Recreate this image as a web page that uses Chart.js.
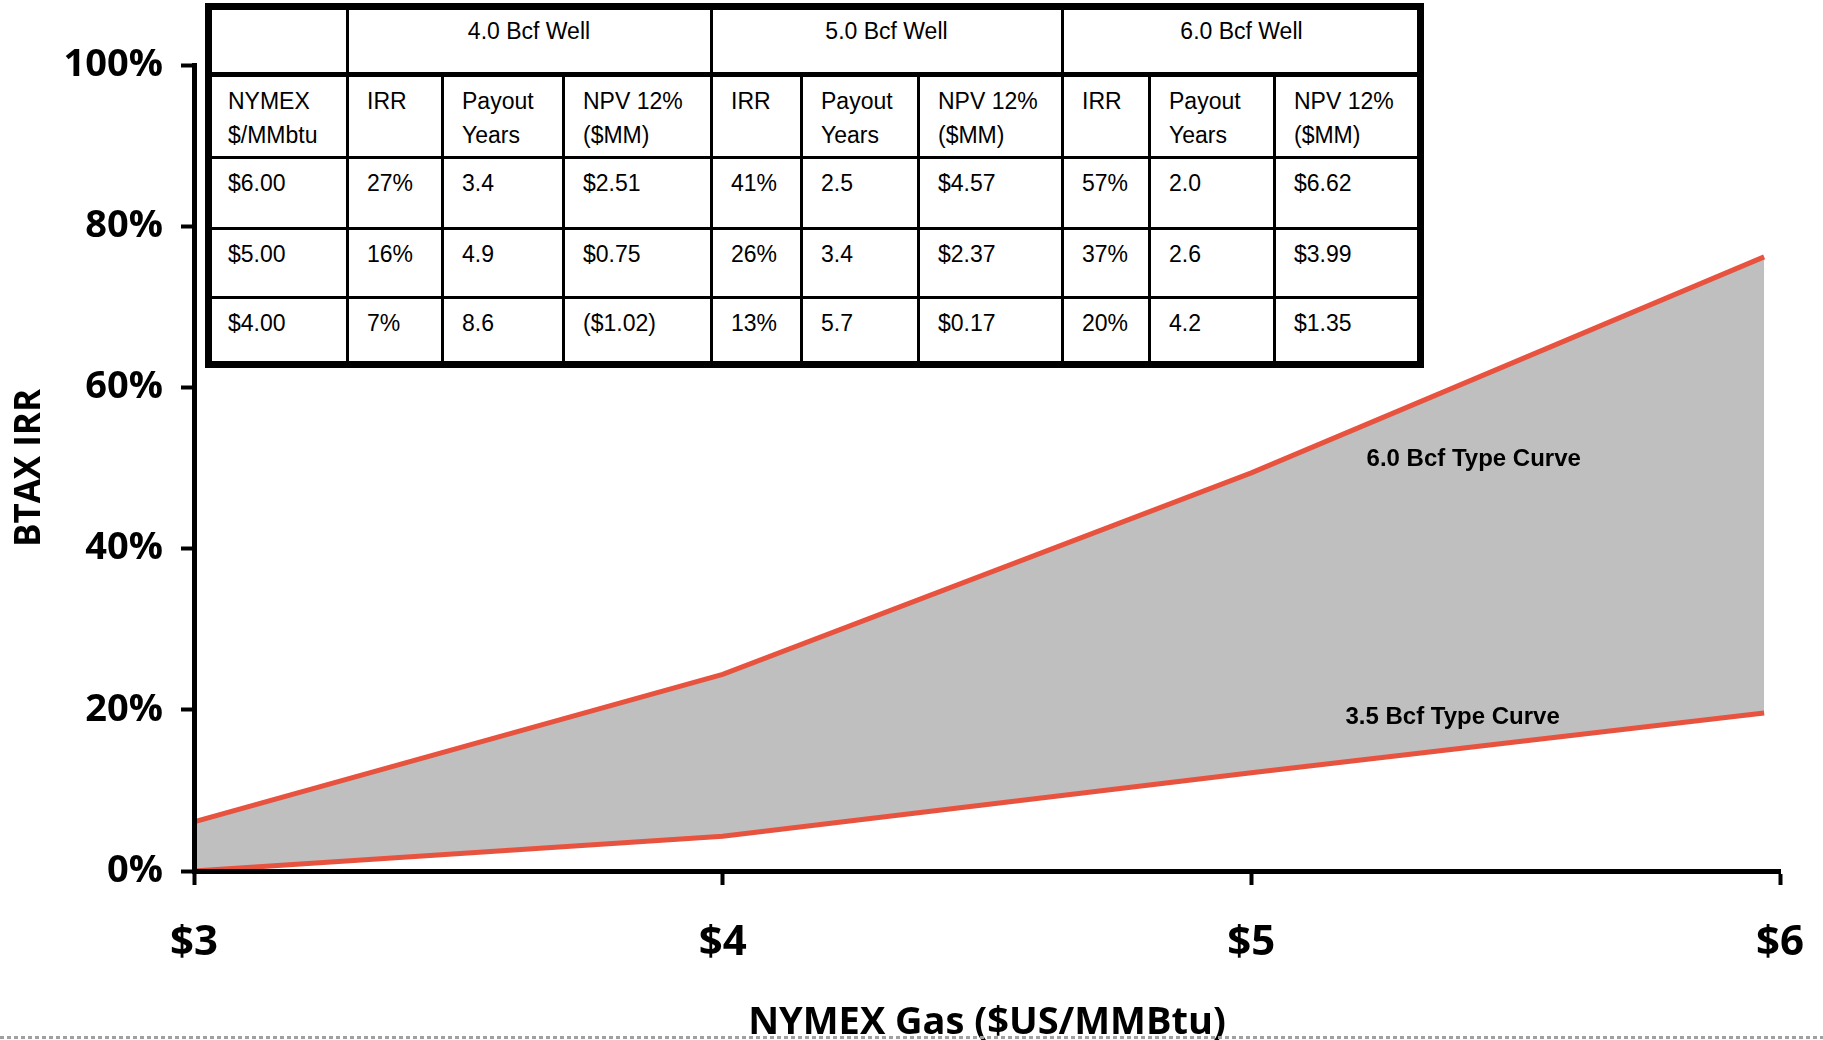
<!DOCTYPE html>
<html>
<head>
<meta charset="utf-8">
<script src="https://cdn.jsdelivr.net/npm/chart.js@4.4.1/dist/chart.umd.min.js"></script>
<style>
  html, body { margin: 0; padding: 0; background: #fff; }
  #wrap { position: relative; width: 1823px; height: 1040px; }
  #irr { position: absolute; left: 0; top: 0; }
  #tbl { position: absolute; left: 0; top: 0; width: 1823px; height: 1040px; pointer-events: none;
         font-family: "Liberation Sans", Arial, sans-serif; font-size: 23px; line-height: 34px; color: #000; }
  .cell { position: absolute; white-space: nowrap; }
  .ln { position: absolute; background: #000; }
</style>
</head>
<body>
<div id="wrap">
  <canvas id="irr" width="1823" height="1040"></canvas>
  <div id="tbl"></div>
</div>
<script>
// gas price ($/MMBtu) vs BTAX IRR (%) for the two type curves
const gasPrice = [3, 4, 5, 5.97];
const irr60Bcf = [6.1, 24.4, 49.4, 76.2];
const irr35Bcf = [0, 4.3, 12.2, 19.6];
const priceTicks = [3, 4, 5, 6];
const irrTicks = [0, 20, 40, 60, 80, 100];
const curveNames = ['6.0 Bcf Type Curve', '3.5 Bcf Type Curve'];

// economics table
const wellNames = ['4.0 Bcf Well', '5.0 Bcf Well', '6.0 Bcf Well'];
const colHeads = ['IRR', 'Payout<br>Years', 'NPV 12%<br>($MM)'];
const tablePrices = ['$6.00', '$5.00', '$4.00'];
const irr40 = ['27%', '16%', '7%'];
const payout40 = ['3.4', '4.9', '8.6'];
const npv40 = ['$2.51', '$0.75', '($1.02)'];
const irr50 = ['41%', '26%', '13%'];
const payout50 = ['2.5', '3.4', '5.7'];
const npv50 = ['$4.57', '$2.37', '$0.17'];
const irr60 = ['57%', '37%', '20%'];
const payout60 = ['2.0', '2.6', '4.2'];
const npv60 = ['$6.62', '$3.99', '$1.35'];

const RED = '#e8533f';
const FILL = '#bfbfbf';
const boldFont = size => ({ family: '"Open Sans", sans-serif', weight: 'bold', size: size });

// ---- table (html overlay) ----
const colX = [208, 347, 442, 563, 711, 801, 918, 1062, 1149, 1274, 1421];
const rowY = [6, 75, 157, 228, 297, 365];
const tbl = document.getElementById('tbl');

function addDiv(cls, style, html) {
  const d = document.createElement('div');
  d.className = cls;
  Object.assign(d.style, style);
  if (html !== undefined) d.innerHTML = html;
  tbl.appendChild(d);
}

function addCell(c, r, html) {
  addDiv('cell', { left: (colX[c] + 20) + 'px', top: (rowY[r] + 9) + 'px' }, html);
}

// white backing + outer frame
addDiv('ln', { left: '205px', top: '3px', width: '1219px', height: '365px', background: '#fff',
  border: '7px solid #000', boxSizing: 'border-box' });
// horizontal rules
addDiv('ln', { left: '208px', top: '72px', width: '1213px', height: '5px' });
[157, 228, 297].forEach(y => addDiv('ln', { left: '208px', top: (y - 1.5) + 'px', width: '1213px', height: '3px' }));
// vertical rules
colX.slice(1, -1).forEach((x, i) => {
  const full = (i % 3 === 0);
  const top = full ? rowY[0] : rowY[1];
  addDiv('ln', { left: (x - 1.5) + 'px', top: top + 'px', width: '3px', height: (rowY[5] - top) + 'px' });
});

// header row
wellNames.forEach((w, i) => {
  const l = colX[1 + i * 3], r = colX[4 + i * 3];
  addDiv('cell', { left: l + 'px', width: (r - l) + 'px', textAlign: 'center', top: (rowY[0] + 8) + 'px' }, w);
});
addCell(0, 1, 'NYMEX<br>$/MMbtu');
wellNames.forEach((w, i) => colHeads.forEach((h, j) => addCell(1 + i * 3 + j, 1, h)));

const wellCols = [[irr40, payout40, npv40], [irr50, payout50, npv50], [irr60, payout60, npv60]];
tablePrices.forEach((p, r) => {
  addCell(0, 2 + r, p);
  wellCols.forEach((cols, i) => cols.forEach((vals, j) => addCell(1 + i * 3 + j, 2 + r, vals[r])));
});

// ---- chart ----
const extras = {
  id: 'extras',
  afterDatasetsDraw(chart) {
    const { ctx, scales: { x, y } } = chart;
    ctx.save();
    ctx.font = 'bold 24px "Liberation Sans", Arial, sans-serif';
    ctx.fillStyle = '#000';
    ctx.textBaseline = 'alphabetic';
    ctx.fillText(curveNames[0], x.getPixelForValue(5.218), y.getPixelForValue(50.3));
    ctx.fillText(curveNames[1], x.getPixelForValue(5.178), y.getPixelForValue(18.3));
    ctx.restore();
  },
  afterDraw(chart) {
    const ctx = chart.ctx;
    ctx.save();
    ctx.strokeStyle = '#a0a0a0';
    ctx.lineWidth = 3;
    ctx.setLineDash([4, 3]);
    ctx.beginPath();
    ctx.moveTo(0, 1037.5);
    ctx.lineTo(chart.width, 1037.5);
    ctx.stroke();
    ctx.restore();
  }
};

new Chart(document.getElementById('irr'), {
  type: 'line',
  data: {
    datasets: [
      {
        label: curveNames[0],
        data: gasPrice.map((p, i) => ({ x: p, y: irr60Bcf[i] })),
        borderColor: RED, borderWidth: 5, backgroundColor: FILL,
        fill: '+1', pointRadius: 0, tension: 0
      },
      {
        label: curveNames[1],
        data: gasPrice.map((p, i) => ({ x: p, y: irr35Bcf[i] })),
        borderColor: RED, borderWidth: 5, backgroundColor: FILL,
        fill: false, pointRadius: 0, tension: 0
      }
    ]
  },
  options: {
    responsive: false,
    animation: false,
    devicePixelRatio: 1,
    layout: { padding: { top: 65, right: 43, left: 0, bottom: 0 } },
    plugins: {
      legend: { display: false },
      tooltip: { enabled: false },
      filler: { drawTime: 'beforeDatasetsDraw' }
    },
    scales: {
      x: {
        type: 'linear', min: 3, max: 6,
        afterBuildTicks: s => { s.ticks = priceTicks.map(v => ({ value: v })); },
        // fixed box so the plot area matches the original
        afterFit: s => { s.height = 169; s.paddingLeft = 0; s.paddingRight = 0; },
        grid: { drawOnChartArea: false, drawTicks: true, tickLength: 14, tickWidth: 4, tickColor: '#000' },
        border: { display: true, color: '#000', width: 5, z: 1 },
        ticks: { color: '#000', font: boldFont(42), padding: 33, maxRotation: 0, callback: v => '$' + v },
        title: { display: true, text: 'NYMEX Gas ($US/MMBtu)', color: '#000', font: boldFont(38),
                 padding: { top: 0, bottom: -6 } }
      },
      y: {
        min: 0, max: 100,
        afterBuildTicks: s => { s.ticks = irrTicks.map(v => ({ value: v })); },
        afterFit: s => { s.width = 194; s.paddingTop = 0; s.paddingBottom = 0; },
        grid: { drawOnChartArea: false, drawTicks: true, tickLength: 13, tickWidth: 4, tickColor: '#000' },
        border: { display: true, color: '#000', width: 5, z: 1 },
        ticks: { color: '#000', font: boldFont(38), padding: 18, callback: v => v + '%' },
        title: { display: true, text: 'BTAX IRR', color: '#000', font: boldFont(35),
                 padding: { top: 9, bottom: 0 } }
      }
    }
  },
  plugins: [extras]
});
</script>
</body>
</html>
